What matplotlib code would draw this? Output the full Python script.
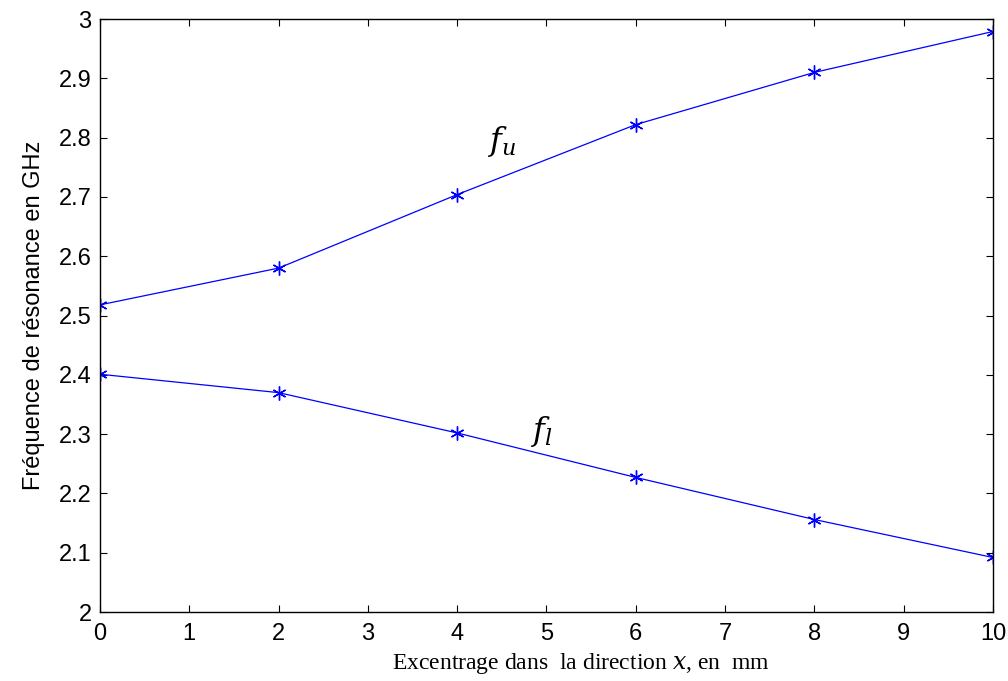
import numpy as np
import matplotlib.pyplot as plt

# Data
excentrage = [0, 2, 4, 6, 8, 10]
freqUpper = [2.518, 2.580, 2.704, 2.822, 2.910, 2.979]
freqLower = [2.401, 2.370, 2.302, 2.227, 2.156, 2.092]
xTicks = list(range(0, 11))
yTicks = [2.0, 2.1, 2.2, 2.3, 2.4, 2.5, 2.6, 2.7, 2.8, 2.9, 3.0]
yTickLabels = ["2", "2.1", "2.2", "2.3", "2.4", "2.5", "2.6", "2.7", "2.8", "2.9", "3"]

plt.rcParams['font.family'] = ['Liberation Sans', 'DejaVu Sans']
plt.rcParams['mathtext.fontset'] = 'dejavuserif'

fig = plt.figure(figsize=(10.08, 6.81), dpi=100)
ax = fig.add_axes([0.0992, 0.1013, 0.8858, 0.8707])

# plot both resonance curves, asterisk markers like matlab
ax.plot(excentrage, freqUpper, color='#0000ff', lw=0.9, marker=(6, 2, 0), ms=10, mew=1.0)
ax.plot(excentrage, freqLower, color='#0000ff', lw=0.9, marker=(6, 2, 0), ms=10, mew=1.0)

ax.text(4.51, 2.793, r'$f_u$', fontsize=23, ha='center', va='center')
ax.text(4.95, 2.305, r'$f_l$', fontsize=23, ha='center', va='center')

ax.set_xlim(0, 10)
ax.set_ylim(2, 3)
ax.set_xticks(xTicks)
ax.set_yticks(yTicks)
ax.set_yticklabels(yTickLabels)
ax.tick_params(direction='in', top=True, right=True, labelsize=17, length=5, width=0.8)
ax.tick_params(axis='x', pad=8)
ax.tick_params(axis='y', pad=6)
for s in ax.spines.values():
    s.set_linewidth(1.0)

ax.set_xlabel(r'Excentrage dans  la direction $x$, en  mm', fontsize=17,
              family=['Liberation Serif', 'DejaVu Serif'])
ax.xaxis.set_label_coords(0.539, -0.065)
ax.set_ylabel('Fréquence de résonance en GHz', fontsize=17, labelpad=10)

fig.savefig('out.png', dpi=100)
